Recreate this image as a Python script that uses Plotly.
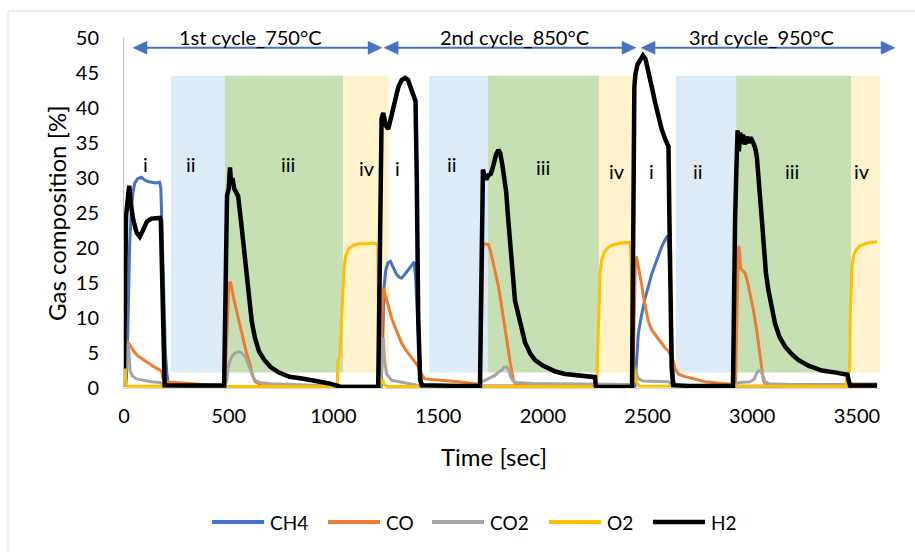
import plotly.graph_objects as go

# ---- measured gas composition [%] versus time [sec] ----
ch4_t = [0, 10, 16, 22, 27, 35, 43, 52, 65, 83, 100, 115, 131, 150, 170, 176, 182, 190, 198, 205, 212, 230,
         1228, 1236, 1242, 1250, 1260, 1272, 1285, 1302, 1315, 1326, 1340, 1355, 1374, 1386, 1392, 1400, 1410, 1420, 1430,
         2440, 2446, 2456, 2472, 2488, 2504, 2520, 2536, 2552, 2568, 2584, 2596, 2602, 2610, 2618, 2625, 2635, 3596]
ch4_v = [0.3, 0.5, 5, 14, 20.5, 25.5, 28, 29.3, 29.9, 30.1, 29.7, 29.5, 29.4, 29.3, 29.4, 28.5, 22, 12, 5, 2, 0.5, 0.25,
         0.2, 8, 14.5, 16.8, 17.9, 18.1, 17.2, 16.2, 15.8, 15.7, 16.2, 16.8, 17.6, 18, 16, 11, 5, 1, 0.3,
         0.3, 3.5, 7.8, 10.5, 12.8, 14.5, 16.3, 17.6, 19.0, 20.2, 21.2, 21.8, 20, 14, 5, 1, 0.3, 0.2]

co_t = [0, 5, 9, 15, 22, 35, 50, 70, 90, 110, 130, 150, 170, 180, 186, 195, 210, 300, 400, 480,
        492, 500, 506, 513, 522, 538, 555, 570, 585, 600, 612, 626, 660, 800, 1225,
        1232, 1238, 1250, 1262, 1278, 1294, 1310, 1326, 1342, 1358, 1374, 1390, 1402, 1414, 1425, 1437, 1480, 1517, 1597, 1676, 1700,
        1708, 1714, 1722, 1740, 1750, 1764, 1776, 1788, 1800, 1811, 1823, 1835, 1845, 1852, 1862, 1880, 2000, 2430,
        2436, 2442, 2448, 2456, 2464, 2472, 2480, 2492, 2504, 2520, 2536, 2552, 2568, 2584, 2600, 2616, 2624, 2632, 2647, 2671,
        2695, 2743, 2775, 2854, 2920,
        2928, 2934, 2940, 2944, 2950, 2966, 2975, 2989, 3005, 3021, 3029, 3037, 3045, 3053, 3065, 3200, 3596]
co_v = [0.3, 4, 6.8, 6.6, 6.4, 5.8, 5.1, 4.5, 4.1, 3.7, 3.2, 2.9, 2.6, 2.4, 1.4, 1.0, 0.85, 0.65, 0.45, 0.3,
        8, 14.5, 15.2, 14.6, 13, 11, 8.8, 7.2, 5.0, 3.6, 2.0, 0.9, 0.35, 0.2, 0.2,
        10, 14.3, 13, 11.6, 10.0, 8.7, 7.4, 6.4, 5.6, 4.9, 4.3, 3.7, 3.2, 2.4, 1.7, 1.3, 1.2, 1.1, 0.9, 0.6, 0.5,
        10, 20.3, 20.6, 20.5, 19.6, 17.8, 16.2, 14.5, 12.3, 10.0, 7.7, 5.6, 3.5, 2.3, 0.9, 0.4, 0.25, 0.2,
        12, 18.5, 18.6, 17.4, 16.5, 14.8, 13.1, 11, 9.5, 8.3, 7.6, 7.0, 6.4, 5.7, 5.3, 4.4, 3.8, 2.7, 2.0, 1.7,
        1.5, 1.1, 0.9, 0.65, 0.5,
        12, 20.3, 19.5, 17.2, 16.9, 16.4, 15.5, 13.6, 11.2, 8.3, 6.5, 4.4, 2.8, 1.1, 0.4, 0.2, 0.1]

co2_t = [0, 10, 16, 20, 24, 29, 40, 60, 92, 130, 172, 185, 200, 480,
         490, 497, 505, 515, 530, 548, 562, 578, 592, 604, 616, 630, 650, 700, 800, 900, 1000, 1225,
         1232, 1238, 1244, 1254, 1278, 1358, 1400, 1420, 1700,
         1710, 1724, 1756, 1772, 1788, 1804, 1816, 1828, 1838, 1846, 1858, 1870, 1950, 2100, 2250, 2426,
         2432, 2438, 2445, 2456, 2480, 2540, 2600, 2620, 2910,
         2920, 2940, 2990, 3010, 3021, 3032, 3042, 3052, 3061, 3080, 3200, 3450, 3470, 3596]
co2_v = [0.3, 2.5, 5.5, 6.5, 5, 2.5, 1.7, 1.3, 1.1, 0.9, 0.8, 0.5, 0.3, 0.2,
         1.0, 2.8, 3.8, 4.5, 5.0, 5.2, 5.0, 4.5, 3.5, 2.6, 1.6, 1.0, 0.8, 0.6, 0.5, 0.35, 0.3, 0.3,
         5, 7.2, 4, 2.0, 1.1, 0.7, 0.5, 0.3, 0.3,
         0.9, 1.1, 1.55, 1.8, 2.3, 2.6, 3.0, 3.0, 2.5, 1.6, 1.0, 0.8, 0.65, 0.6, 0.6, 0.5,
         2.0, 3.0, 2.2, 1.3, 1.0, 0.9, 0.9, 0.4, 0.3,
         0.6, 0.8, 0.9, 1.3, 2.1, 2.5, 2.4, 1.6, 0.9, 0.6, 0.5, 0.5, 0.6, 0.6]

o2_t = [0, 4, 8, 15, 300, 1018,
        1022, 1030, 1036, 1043, 1050, 1058, 1070, 1090, 1120, 1160, 1190, 1207, 1212, 1216, 1220, 1228, 1235, 1242, 1260, 2252,
        2258, 2263, 2268, 2273, 2281, 2293, 2313, 2340, 2370, 2400, 2418, 2422, 2426, 2430, 2436, 2444, 2460, 3448,
        3452, 3465, 3467, 3471, 3476, 3484, 3495, 3515, 3540, 3570, 3596]
o2_v = [3.8, 3.0, 1.0, 0.3, 0.2, 0.2,
        4.0, 4.3, 8, 13, 16.8, 18.8, 19.8, 20.3, 20.6, 20.6, 20.7, 20.6, 20.2, 5, 1.0, 0.6, 1.2, 0.5, 0.2, 0.2,
        1.5, 6, 12, 16.5, 18.3, 19.4, 20.1, 20.5, 20.7, 20.8, 20.8, 18, 3, 0.5, 2.5, 1.0, 0.3, 0.2,
        2.2, 2.4, 9, 14.5, 17.5, 18.9, 19.7, 20.3, 20.6, 20.8, 20.9]

h2_t = [0, 6, 10, 18, 25, 32, 43, 60, 75, 90, 110, 130, 172, 176, 180, 186, 194, 300, 478,
        482, 486, 492, 500, 506, 512, 518, 526, 545, 560, 575, 590, 602, 610, 625, 645, 670, 700, 740, 790, 850, 920, 980,
        1020, 1035, 1214,
        1218, 1224, 1230, 1238, 1250, 1262, 1278, 1294, 1310, 1326, 1342, 1356, 1366, 1380, 1392, 1398, 1405, 1414, 1422, 1600, 1700,
        1704, 1709, 1714, 1722, 1730, 1740, 1752, 1764, 1776, 1788, 1796, 1806, 1815, 1825, 1835, 1845, 1855, 1867, 1883, 1900,
        1915, 1940, 1963, 2000, 2026, 2060, 2106, 2180, 2249, 2253, 2262, 2426,
        2430, 2433, 2437, 2442, 2452, 2464, 2478, 2490, 2500, 2512, 2524, 2536, 2552, 2568, 2584, 2600, 2604, 2608, 2615, 2622,
        2700, 2908,
        2912, 2918, 2924, 2930, 2936, 2942, 2948, 2956, 2964, 2973, 2982, 2992, 3005, 3015, 3022, 3030, 3038, 3046, 3053, 3065,
        3077, 3093, 3109, 3130, 3157, 3190, 3220, 3268, 3332, 3400, 3455, 3462, 3468, 3596]
h2_v = [2.8, 14, 24.6, 27, 28.9, 26.5, 24.2, 22.2, 21.6, 22.5, 23.8, 24.2, 24.3, 24.0, 18, 5, 0.4, 0.35, 0.35,
        8, 20, 27.5, 28.5, 31.5, 29.2, 30, 28.5, 27.4, 23.5, 19.0, 14.5, 12, 9.5, 7.2, 5.2, 4.0, 3.0, 2.2, 1.6, 1.35, 1.05, 0.65,
        0.3, 0.15, 0.15,
        10, 30, 38.5, 39.3, 37.5, 37.0, 39, 41.4, 43, 44.0, 44.3, 44, 43.2, 42, 41, 30, 10, 1.2, 0.4, 0.3, 0.3,
        10, 25, 31.2, 30.2, 29.8, 30.4, 30.6, 31.8, 33.3, 34.0, 33.6, 32, 30.5, 28, 24, 20.5, 17, 12.5, 10.5, 8.2,
        6.5, 4.9, 4.0, 3.2, 2.8, 2.35, 2.0, 1.75, 1.55, 0.3, 0.15, 0.15,
        15, 37.5, 43, 44.8, 46.2, 46.8, 47.5, 47.0, 45.8, 44.2, 42.5, 40.8, 38.5, 36.9, 35.6, 34.5, 25, 12, 3, 0.4,
        0.3, 0.3,
        12, 24, 31, 36.8, 33.8, 36.5, 35, 36.2, 34.8, 35.9, 35, 35.8, 35, 34.2, 33, 29, 27, 24, 20.5, 16.5,
        14, 11.3, 9.2, 7.3, 5.9, 4.8, 4.0, 3.2, 2.5, 2.2, 1.9, 0.8, 0.36, 0.36]

# ---- process phases (shaded) and labels ----
band_x0 = [224, 482, 1046, 1457, 1738, 2268, 2636, 2923, 3472]
band_x1 = [482, 1046, 1265, 1738, 2268, 2431, 2923, 3472, 3610]
band_kind = ["ii", "iii", "iv", "ii", "iii", "iv", "ii", "iii", "iv"]
band_y0, band_y1 = 2.2, 44.6

phase_text = ["i", "ii", "iii", "iv", "i", "ii", "iii", "iv", "i", "ii", "iii", "iv"]
phase_t = [105, 320, 783, 1160, 1308, 1566, 2001, 2354, 2521, 2741, 3190, 3524]
phase_y = [32.0, 32.0, 32.0, 31.4, 31.4, 32.0, 31.6, 31.0, 31.0, 31.0, 31.0, 31.0]

cycle_text = ["1st cycle_750°C", "2nd cycle_850°C", "3rd cycle_950°C"]
cycle_label_t = [602, 1865, 3044]
cycle_start = [43, 1242, 2469]
cycle_end = [1232, 2445, 3682]
cycle_arrow_y = 48.6

x_ticks = [0, 500, 1000, 1500, 2000, 2500, 3000, 3500]
y_ticks = [0, 5, 10, 15, 20, 25, 30, 35, 40, 45, 50]

XMAX = 3610
YMAX = 50
W, H = 915, 552
ML, MR, MT, MB = 124, 35, 38, 164
PW, PH = W - ML - MR, H - MT - MB

FONT = "Lato"
band_colors = {"ii": "#DDEBF7", "iii": "#C6E0B4", "iv": "#FFF2CC"}
series = [
    ("CH4", ch4_t, ch4_v, "#4472C4", 3),
    ("CO", co_t, co_v, "#ED7D31", 3),
    ("CO2", co2_t, co2_v, "#A5A5A5", 3),
    ("O2", o2_t, o2_v, "#FFC000", 3),
    ("H2", h2_t, h2_v, "#000000", 4.5),
]


def px_x(px):
    return (px - ML) / PW


def px_y(py):
    return (MT + PH - py) / PH


fig = go.Figure()
for name, t, v, color, width in series:
    fig.add_trace(go.Scatter(x=t, y=v, mode="lines", name=name, showlegend=False,
                             line=dict(color=color, width=width), hoverinfo="skip"))

shapes = []
for x0, x1, kind in zip(band_x0, band_x1, band_kind):
    shapes.append(dict(type="rect", xref="x", yref="y", x0=x0, x1=x1, y0=band_y0, y1=band_y1,
                       fillcolor=band_colors[kind], line=dict(width=0), layer="below"))

# double-headed cycle arrows (paper coordinates so the last one may run past the axis end)
ARROW = "#4472C4"
head_len = 14 / PW
head_half = 6.5 / PH
ya = cycle_arrow_y / YMAX
for s, e in zip(cycle_start, cycle_end):
    xs, xe = s / XMAX, e / XMAX
    shapes.append(dict(type="line", xref="paper", yref="paper", x0=xs + head_len * 0.5, x1=xe - head_len * 0.5,
                       y0=ya, y1=ya, line=dict(color=ARROW, width=2)))
    shapes.append(dict(type="path", xref="paper", yref="paper",
                       path=f"M {xs},{ya} L {xs + head_len},{ya + head_half} L {xs + head_len},{ya - head_half} Z",
                       fillcolor=ARROW, line=dict(color=ARROW, width=0.5)))
    shapes.append(dict(type="path", xref="paper", yref="paper",
                       path=f"M {xe},{ya} L {xe - head_len},{ya + head_half} L {xe - head_len},{ya - head_half} Z",
                       fillcolor=ARROW, line=dict(color=ARROW, width=0.5)))

# chart frame
shapes.append(dict(type="rect", xref="paper", yref="paper",
                   x0=px_x(8), x1=px_x(940), y0=px_y(11), y1=px_y(600),
                   line=dict(color="#D9D9D9", width=1), fillcolor="rgba(0,0,0,0)", layer="below"))

annotations = []
for txt, t, y in zip(phase_text, phase_t, phase_y):
    annotations.append(dict(x=t, y=y, xref="x", yref="y", text=txt, showarrow=False,
                            font=dict(family=FONT, size=20, color="#000000")))
for txt, t in zip(cycle_text, cycle_label_t):
    annotations.append(dict(x=t / XMAX, y=px_y(37), xref="paper", yref="paper",
                            text=txt, showarrow=False, xanchor="center", yanchor="middle",
                            font=dict(family=FONT, size=20, color="#000000")))
annotations.append(dict(x=px_x(494), y=px_y(456), xref="paper", yref="paper",
                        text="Time [sec]", showarrow=False, xanchor="center", yanchor="middle",
                        font=dict(family=FONT, size=24, color="#000000")))
annotations.append(dict(x=px_x(56), y=0.5, xref="paper", yref="paper", textangle=-90,
                        text="Gas composition [%]", showarrow=False, xanchor="center", yanchor="middle",
                        font=dict(family=FONT, size=24, color="#000000")))

# legend row: key line followed by the series name
legend_key_x = [212, 328, 432, 549, 653]
KEY_LEN, LEG_Y = 52, 522
for (name, _, _, color, width), kx in zip(series, legend_key_x):
    shapes.append(dict(type="line", xref="paper", yref="paper",
                       x0=px_x(kx), x1=px_x(kx + KEY_LEN), y0=px_y(LEG_Y), y1=px_y(LEG_Y),
                       line=dict(color=color, width=4 if width < 4 else 4.5)))
    annotations.append(dict(x=px_x(kx + KEY_LEN + 4), y=px_y(LEG_Y), xref="paper", yref="paper",
                            text=name, showarrow=False, xanchor="left", yanchor="middle",
                            font=dict(family=FONT, size=19, color="#000000")))

fig.update_layout(
    width=W, height=H,
    margin=dict(l=ML, r=MR, t=MT, b=MB),
    paper_bgcolor="white", plot_bgcolor="white",
    font=dict(family=FONT, size=20, color="#000000"),
    shapes=shapes, annotations=annotations,
    showlegend=False,
    xaxis=dict(range=[0, XMAX], tickvals=x_ticks, showgrid=False, zeroline=False,
               showline=True, linecolor="#D9D9D9", linewidth=1, ticks="",
               ticklabelstandoff=10, tickfont=dict(family=FONT, size=20, color="#000000")),
    yaxis=dict(range=[0, YMAX], tickvals=y_ticks, showgrid=False, zeroline=False,
               showline=True, linecolor="#BFBFBF", linewidth=1, ticks="",
               ticklabelstandoff=20, tickfont=dict(family=FONT, size=20, color="#000000")),
)

fig.write_html("out.html")
